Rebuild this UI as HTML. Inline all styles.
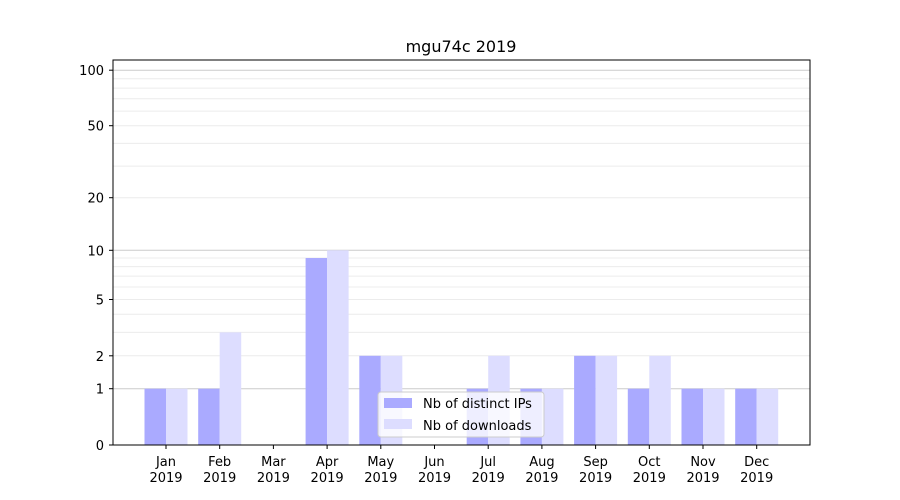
<!DOCTYPE html>
<html><head><meta charset="utf-8"><style>body{margin:0;background:#fff}svg{display:block}text{font-family:"DejaVu Sans","Liberation Sans",sans-serif;font-size:13px;fill:#000}</style></head>
<body>
<svg width="900" height="500" xmlns="http://www.w3.org/2000/svg">
<rect width="900" height="500" fill="#fff"/>
<g stroke="#ececec" stroke-width="1">
<line x1="113" x2="810" y1="355.8" y2="355.8"/><line x1="113" x2="810" y1="332.4" y2="332.4"/><line x1="113" x2="810" y1="314.3" y2="314.3"/><line x1="113" x2="810" y1="299.5" y2="299.5"/><line x1="113" x2="810" y1="287" y2="287"/><line x1="113" x2="810" y1="276.1" y2="276.1"/><line x1="113" x2="810" y1="266.6" y2="266.6"/><line x1="113" x2="810" y1="258" y2="258"/>
<line x1="113" x2="810" y1="197.7" y2="197.7"/><line x1="113" x2="810" y1="166.1" y2="166.1"/><line x1="113" x2="810" y1="143.4" y2="143.4"/><line x1="113" x2="810" y1="125.7" y2="125.7"/><line x1="113" x2="810" y1="111.1" y2="111.1"/><line x1="113" x2="810" y1="98.8" y2="98.8"/><line x1="113" x2="810" y1="88.1" y2="88.1"/><line x1="113" x2="810" y1="78.7" y2="78.7"/>
</g>
<g stroke="#cccccc" stroke-width="1">
<line x1="113" x2="810" y1="388.7" y2="388.7"/><line x1="113" x2="810" y1="250.3" y2="250.3"/><line x1="113" x2="810" y1="70.2" y2="70.2"/>
</g>
<g fill="#aaaaff">
<rect x="144.5" y="388.7" width="21.5" height="56.3"/>
<rect x="198.2" y="388.7" width="21.5" height="56.3"/>
<rect x="305.6" y="258" width="21.5" height="187"/>
<rect x="359.3" y="355.8" width="21.5" height="89.2"/>
<rect x="466.7" y="388.7" width="21.5" height="56.3"/>
<rect x="520.4" y="388.7" width="21.5" height="56.3"/>
<rect x="574.1" y="355.8" width="21.5" height="89.2"/>
<rect x="627.8" y="388.7" width="21.5" height="56.3"/>
<rect x="681.5" y="388.7" width="21.5" height="56.3"/>
<rect x="735.2" y="388.7" width="21.5" height="56.3"/>
</g>
<g fill="#ddddff">
<rect x="166" y="388.7" width="21.5" height="56.3"/>
<rect x="219.7" y="332.4" width="21.5" height="112.6"/>
<rect x="327.1" y="250.3" width="21.5" height="194.7"/>
<rect x="380.8" y="355.8" width="21.5" height="89.2"/>
<rect x="488.2" y="355.8" width="21.5" height="89.2"/>
<rect x="541.9" y="388.7" width="21.5" height="56.3"/>
<rect x="595.6" y="355.8" width="21.5" height="89.2"/>
<rect x="649.3" y="355.8" width="21.5" height="89.2"/>
<rect x="703" y="388.7" width="21.5" height="56.3"/>
<rect x="756.7" y="388.7" width="21.5" height="56.3"/>
</g>
<rect x="113" y="60" width="697" height="385" fill="none" stroke="#000" stroke-width="1"/>
<g stroke="#000">
<line x1="166" x2="166" y1="445" y2="449"/><line x1="219.7" x2="219.7" y1="445" y2="449"/><line x1="273.4" x2="273.4" y1="445" y2="449"/><line x1="327.1" x2="327.1" y1="445" y2="449"/><line x1="380.8" x2="380.8" y1="445" y2="449"/><line x1="434.5" x2="434.5" y1="445" y2="449"/><line x1="488.2" x2="488.2" y1="445" y2="449"/><line x1="541.9" x2="541.9" y1="445" y2="449"/><line x1="595.6" x2="595.6" y1="445" y2="449"/><line x1="649.3" x2="649.3" y1="445" y2="449"/><line x1="703" x2="703" y1="445" y2="449"/><line x1="756.7" x2="756.7" y1="445" y2="449"/>
<line x1="109" x2="113" y1="445" y2="445"/><line x1="109" x2="113" y1="388.7" y2="388.7"/><line x1="109" x2="113" y1="355.8" y2="355.8"/><line x1="109" x2="113" y1="299.5" y2="299.5"/><line x1="109" x2="113" y1="250.3" y2="250.3"/><line x1="109" x2="113" y1="197.7" y2="197.7"/><line x1="109" x2="113" y1="125.7" y2="125.7"/><line x1="109" x2="113" y1="70.2" y2="70.2"/>
</g>
<g text-anchor="end">
<text x="104" y="450">0</text><text x="104" y="393.7">1</text><text x="104" y="360.8">2</text><text x="104" y="304.5">5</text><text x="104" y="255.3">10</text><text x="104" y="202.7">20</text><text x="104" y="130.7">50</text><text x="104" y="75.2">100</text>
</g>
<g text-anchor="middle">
<text x="166" y="466">Jan</text><text x="166" y="482">2019</text>
<text x="219.7" y="466">Feb</text><text x="219.7" y="482">2019</text>
<text x="273.4" y="466">Mar</text><text x="273.4" y="482">2019</text>
<text x="327.1" y="466">Apr</text><text x="327.1" y="482">2019</text>
<text x="380.8" y="466">May</text><text x="380.8" y="482">2019</text>
<text x="434.5" y="466">Jun</text><text x="434.5" y="482">2019</text>
<text x="488.2" y="466">Jul</text><text x="488.2" y="482">2019</text>
<text x="541.9" y="466">Aug</text><text x="541.9" y="482">2019</text>
<text x="595.6" y="466">Sep</text><text x="595.6" y="482">2019</text>
<text x="649.3" y="466">Oct</text><text x="649.3" y="482">2019</text>
<text x="703" y="466">Nov</text><text x="703" y="482">2019</text>
<text x="756.7" y="466">Dec</text><text x="756.7" y="482">2019</text>
</g>
<text x="461" y="52" text-anchor="middle" style="font-size:16px">mgu74c 2019</text>
<rect x="378" y="392" width="166" height="45" rx="3" fill="#fff" fill-opacity="0.8" stroke="#ccc"/>
<rect x="384" y="398" width="28" height="10" fill="#aaaaff"/>
<rect x="384" y="419" width="28" height="10" fill="#ddddff"/>
<text x="423" y="408">Nb of distinct IPs</text>
<text x="423" y="430">Nb of downloads</text>
</svg>
</body></html>
